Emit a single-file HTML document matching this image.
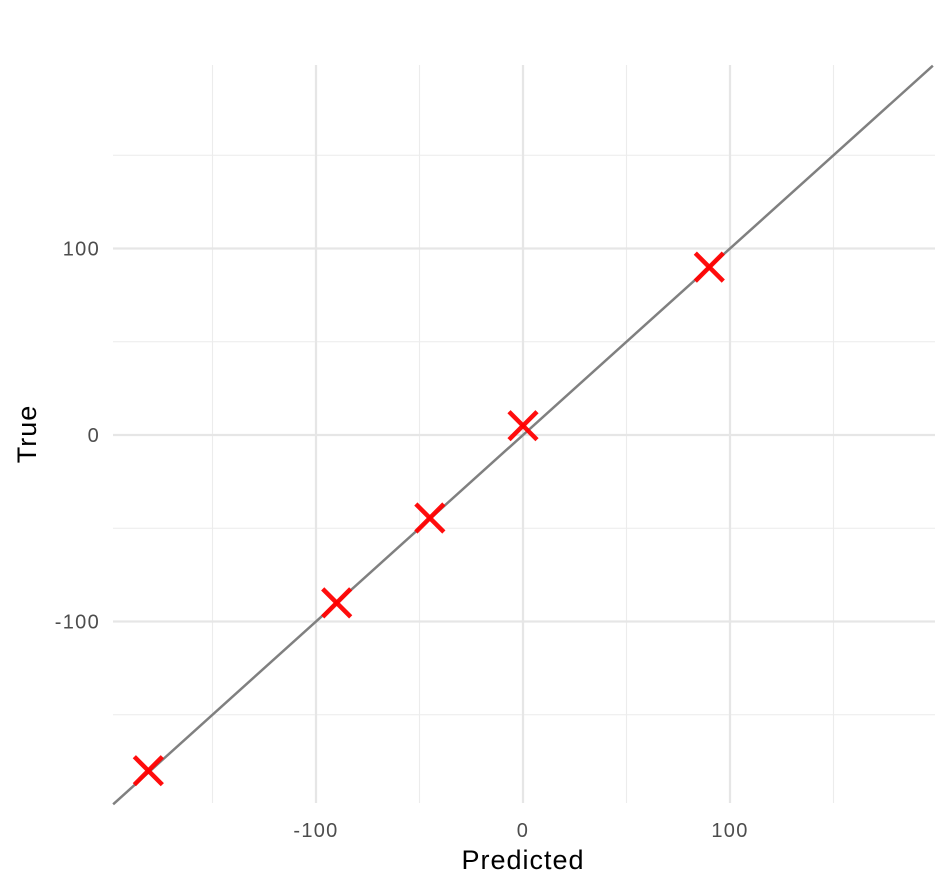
<!DOCTYPE html>
<html><head><meta charset="utf-8"><style>
html,body{margin:0;padding:0;background:#fff;}
svg{display:block;font-family:"Liberation Sans",Arial,sans-serif;}
</style></head><body>
<svg id="chart" width="950" height="892" viewBox="0 0 950 892"></svg>
<script>
const pointsX = [-181, -90, -45, 0, 90];
const pointsY = [-180, -90, -44.5, 5, 90];
const majorTicks = [-100, 0, 100];
const tickLabels = ["-100", "0", "100"];
const minorTicks = [-150, -50, 50, 150];
const lineRange = [-198, 198];

const svg = document.getElementById('chart');
const NS = 'http://www.w3.org/2000/svg';
const L = 113, R = 935, T = 65, B = 803;
const sx = v => 523 + v * 2.07;
const sy = v => 435 - v * 1.865;
function mk(tag, attrs, parent) {
  const e = document.createElementNS(NS, tag);
  for (const k in attrs) e.setAttribute(k, attrs[k]);
  (parent || svg).appendChild(e);
  return e;
}
const grid = mk('g', {});


minorTicks.forEach(v => {
  const a = mk('line', {x1: sx(v), x2: sx(v), y1: T, y2: B, stroke: '#ececec', 'stroke-width': 1.1}, grid);
  
  
  const b = mk('line', {x1: L, x2: R, y1: sy(v), y2: sy(v), stroke: '#ececec', 'stroke-width': 1.1}, grid);
  
  
});
majorTicks.forEach((v, i) => {
  const a = mk('line', {x1: sx(v), x2: sx(v), y1: T, y2: B, stroke: '#e6e6e6', 'stroke-width': 2.2}, grid);
  
  
  const b = mk('line', {x1: L, x2: R, y1: sy(v), y2: sy(v), stroke: '#e6e6e6', 'stroke-width': 2.2}, grid);
  
  
  const tx = mk('text', {x: sx(v), y: 837, 'text-anchor': 'middle', 'font-size': 20, 'letter-spacing': 1.3, fill: '#4d4d4d'});
  tx.textContent = tickLabels[i];
  
  
  const ty = mk('text', {x: 100, y: sy(v) + 7, 'text-anchor': 'end', 'font-size': 20, 'letter-spacing': 1.3, fill: '#4d4d4d'});
  ty.textContent = tickLabels[i];
  
  
});
const ln = mk('line', {x1: sx(lineRange[0]), y1: sy(lineRange[0]), x2: sx(lineRange[1]), y2: sy(lineRange[1]), stroke: '#808080', 'stroke-width': 2.5});


const s = 14;
pointsX.forEach((x, i) => {
  const cx = sx(x), cy = sy(pointsY[i]);
  const g = mk('g', {stroke: '#ff0000', 'stroke-width': 4.5, 'stroke-opacity': 0.95});
  
  
  mk('line', {x1: cx - s, y1: cy - s, x2: cx + s, y2: cy + s}, g);
  mk('line', {x1: cx - s, y1: cy + s, x2: cx + s, y2: cy - s}, g);
});
const xt = mk('text', {x: 523, y: 869, 'text-anchor': 'middle', 'font-size': 27, 'letter-spacing': 1, fill: '#000'});
xt.textContent = 'Predicted';


const yt = mk('text', {x: 0, y: 0, 'text-anchor': 'middle', 'font-size': 27, 'letter-spacing': 1, fill: '#000', transform: 'translate(36,434) rotate(-90)'});
yt.textContent = 'True';


</script>
</body></html>
